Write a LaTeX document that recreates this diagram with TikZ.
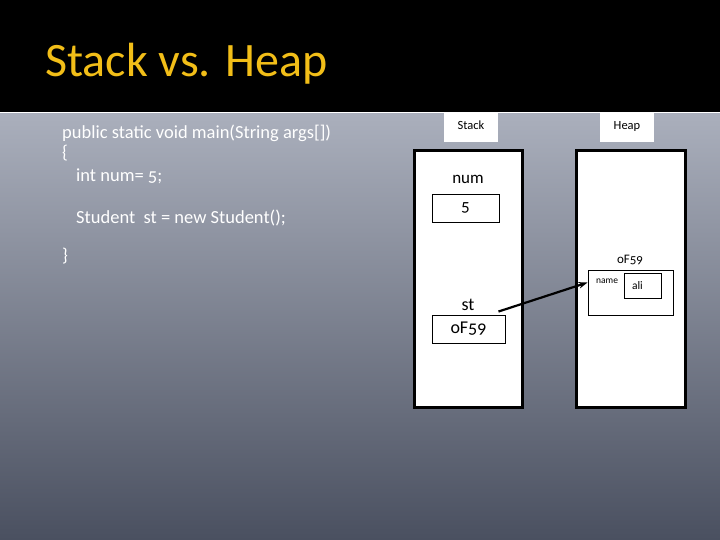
\documentclass[tikz,border=0pt]{standalone}
\usepackage{fontspec}
\setmainfont{Carlito}[Numbers=OldStyle]
\usetikzlibrary{arrows.meta, positioning}

\definecolor{titlegold}{RGB}{242,190,24}
\definecolor{slatetop}{RGB}{170,175,188}
\definecolor{slatebot}{RGB}{74,80,96}

\begin{document}
\begin{tikzpicture}[x=1pt, y=-1pt,
  code/.style = {
    anchor=base west, text=white, inner sep=0pt,
    font=\fontsize{18.5}{22}\selectfont
  },
  tag/.style = {
    rectangle, fill=white, anchor=north, inner sep=0pt,
    minimum width=54pt, text height=16pt, text depth=13pt,
    font=\fontsize{12.5}{15}\selectfont
  },
  column/.style = {rectangle, draw=black, line width=3pt, fill=white, inner sep=0pt},
  cell/.style = {rectangle, draw=black, line width=0.9pt, fill=white, inner sep=0pt},
  varname/.style = {anchor=base, inner sep=0pt, font=\fontsize{17}{20}\selectfont},
  arrow/.style = {-{Stealth[length=9pt, width=6.5pt]}, line width=2.2pt}
]
  \useasboundingbox (0,0) rectangle (720,540);

  % Hintergrund: Titelleiste und Verlauf
  \fill[black] (0,0) rectangle (720,112);
  \draw[white, line width=1.2pt] (0,113) -- (720,113);
  \shade[top color=slatetop, bottom color=slatebot] (0,114) rectangle (720,540);

  % Titel
  \node[anchor=base west, inner sep=0pt, text=titlegold,
        font=\fontsize{48}{57}\selectfont] (title) at (45,77) {Stack vs. Heap};

  % Quelltext links
  \node[code] (line1) at (62,139) {public static void main(String args[])};
  \node[code] (line2) at (62,159) {\{};
  \node[code] (line3) at (76,182) {int num= 5;};
  \node[code] (line4) at (76,223) {Student\ \ st = new Student();};
  \node[code] (line5) at (62,261) {\}};

  % Spalten Stack und Heap
  \node[tag] (stacktag) at (471,113) {Stack};
  \node[tag] (heaptag)  at (627,113) {Heap};
  \node[column, minimum width=108pt, minimum height=257pt] (stack) at (468.5,279) {};
  \node[column, minimum width=109pt, minimum height=257pt] (heap)  at (631,279) {};

  % Variablen im Stack
  \node[varname] (num) at (468,184) {num};
  \node[cell, minimum width=67pt, minimum height=28pt,
        font=\fontsize{17}{20}\selectfont] (numbox) at (465.5,208) {5};
  \node[varname, font=\fontsize{18}{21}\selectfont] (st) at (468,310) {st};
  \node[cell, minimum width=73pt, minimum height=28pt,
        font=\fontsize{18}{21}\selectfont] (stbox) at (468.5,329) {oF59};

  % Objekt im Heap
  \node[anchor=base, inner sep=0pt, font=\fontsize{13}{15}\selectfont] (objaddr) at (630,263) {oF59};
  \node[cell, minimum width=85pt, minimum height=45pt] (obj) at (630.5,292.5) {};
  \node[anchor=base west, inner sep=0pt, font=\fontsize{9.5}{11}\selectfont] (field) at (596,283) {name};
  \node[cell, text width=21pt, inner xsep=8pt, minimum height=25pt, align=left,
        font=\fontsize{11.5}{13}\selectfont] (alibox) at (642.5,285.5) {ali};

  % Referenz st -> Objekt
  \draw[arrow] ([xshift=-7pt, yshift=3pt]stbox.north east) -- ([yshift=10pt]obj.west);

\end{tikzpicture}
\end{document}
